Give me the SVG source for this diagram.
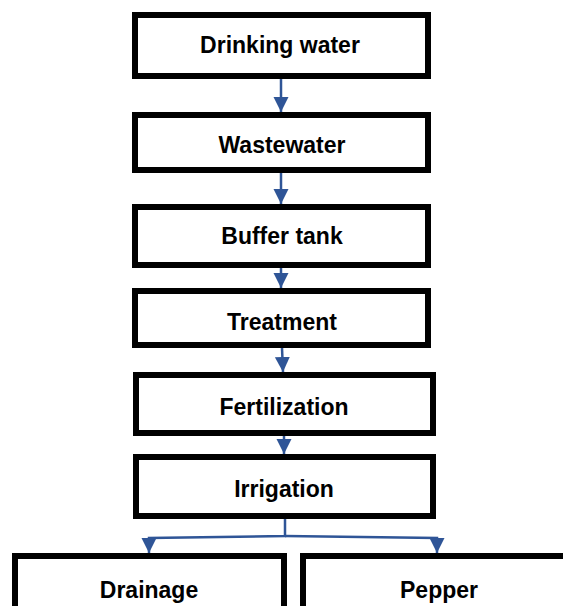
<svg xmlns="http://www.w3.org/2000/svg" width="563" height="606" viewBox="0 0 563 606">
<style>
.box{fill:#fff;stroke:#000;stroke-width:6}
.lbl{font-family:"Liberation Sans",Arial,sans-serif;font-weight:bold;font-size:23px;fill:#000;text-anchor:middle}
.con{fill:none;stroke:#2F5597;stroke-width:2.5}
</style>
<defs>
<marker id="ah" markerUnits="userSpaceOnUse" markerWidth="16" markerHeight="16" refX="15" refY="7.5" orient="auto">
<path d="M0,0 L15,7.5 L0,15 z" fill="#2F5597"/>
</marker>
</defs>
<rect width="563" height="606" fill="#fff"/>
<g id="connectors">
<line class="con" x1="281" y1="79" x2="281" y2="112" marker-end="url(#ah)"/>
<line class="con" x1="281" y1="173" x2="281" y2="204" marker-end="url(#ah)"/>
<line class="con" x1="281" y1="268" x2="281" y2="288" marker-end="url(#ah)"/>
<line class="con" x1="282" y1="348" x2="283" y2="372" marker-end="url(#ah)"/>
<line class="con" x1="284" y1="436" x2="284" y2="454" marker-end="url(#ah)"/>
<polyline class="con" points="285,519 285,536 149,538 149,553" marker-end="url(#ah)"/>
<polyline class="con" points="285,536 437,538 437,553" marker-end="url(#ah)"/>
</g>
<g id="drinking-water"><rect class="box" x="135" y="15" width="293" height="61"/><text class="lbl" x="280" y="53">Drinking water</text></g>
<g id="wastewater"><rect class="box" x="135" y="115" width="293" height="55"/><text class="lbl" x="282" y="153">Wastewater</text></g>
<g id="buffer-tank"><rect class="box" x="135" y="207" width="293" height="58"/><text class="lbl" x="282" y="244">Buffer tank</text></g>
<g id="treatment"><rect class="box" x="135" y="291" width="293" height="54"/><text class="lbl" x="282" y="330">Treatment</text></g>
<g id="fertilization"><rect class="box" x="136" y="375" width="297" height="58"/><text class="lbl" x="284" y="415">Fertilization</text></g>
<g id="irrigation"><rect class="box" x="136" y="457" width="297" height="59"/><text class="lbl" x="284" y="497">Irrigation</text></g>
<g id="drainage"><rect class="box" x="15" y="556" width="269" height="70"/><text class="lbl" x="149" y="598">Drainage</text></g>
<g id="pepper"><rect class="box" x="303" y="556" width="300" height="70"/><text class="lbl" x="439" y="598">Pepper</text></g>
</svg>
